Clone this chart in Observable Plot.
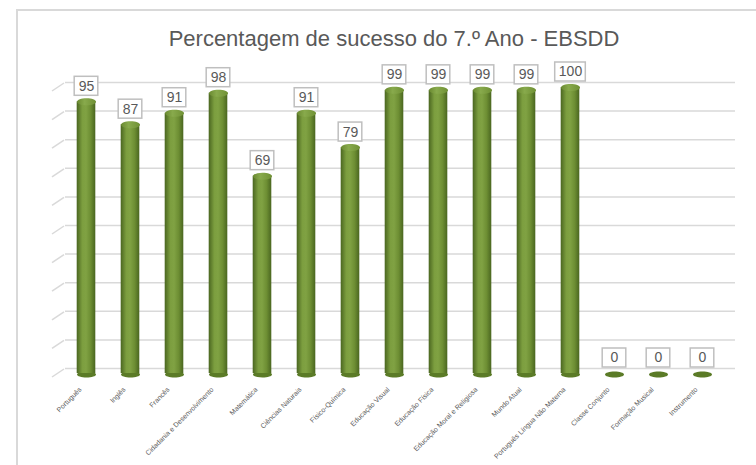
<!DOCTYPE html>
<html>
<head>
<meta charset="utf-8">
<script src="https://cdn.jsdelivr.net/npm/d3@7"></script>
<script src="https://cdn.jsdelivr.net/npm/@observablehq/plot@0.6"></script>
<style>
  html, body { margin: 0; padding: 0; background: #fff; overflow: hidden; }
  #wrap { position: relative; width: 756px; height: 465px; }
  #frame { position: absolute; left: 16px; top: 9px; width: 800px; height: 500px;
           border: 2px solid #d9d9d9; pointer-events: none; }
</style>
</head>
<body>
<div id="wrap"><div id="chart"></div><div id="frame"></div></div>
<script>
const categories = ["Português","Inglês","Francês","Cidadania e Desenvolvimento","Matemática","Ciências Naturais","Físico-Química","Educação Visual","Educação Física","Educação Moral e Religiosa","Mundo Atual","Português Língua Não Materna","Classe Conjunto","Formação Musical","Instrumento"];
const values = [95, 87, 91, 98, 69, 91, 79, 99, 99, 99, 99, 100, 0, 0, 0];
const gridTicks = [0, 10, 20, 30, 40, 50, 60, 70, 80, 90, 100];
const title = "Percentagem de sucesso do 7.º Ano - EBSDD";

const data = categories.map((c, i) => ({cat: c, v: values[i]}));
const font = "Liberation Sans, Arial, sans-serif";
const textColor = "#595959";

function ellipseSymbol(rx, ry) {
  const k = 0.5523;
  return {
    draw(ctx) {
      ctx.moveTo(rx, 0);
      ctx.bezierCurveTo(rx, k * ry, k * rx, ry, 0, ry);
      ctx.bezierCurveTo(-k * rx, ry, -rx, k * ry, -rx, 0);
      ctx.bezierCurveTo(-rx, -k * ry, -k * rx, -ry, 0, -ry);
      ctx.bezierCurveTo(k * rx, -ry, rx, -k * ry, rx, 0);
      ctx.closePath();
    }
  };
}

const defs = () => {
  const d = d3.create("svg:defs");
  const g1 = d.append("linearGradient").attr("id", "cyl").attr("x1", 0).attr("x2", 1).attr("y1", 0).attr("y2", 0);
  [["0%", "#4a6620"], ["30%", "#7c9e3f"], ["50%", "#80a243"], ["75%", "#6d8e33"], ["100%", "#4a6620"]]
    .forEach(([o, c]) => g1.append("stop").attr("offset", o).attr("stop-color", c));
  const g2 = d.append("linearGradient").attr("id", "cap").attr("x1", 0).attr("x2", 1).attr("y1", 0).attr("y2", 0);
  [["0%", "#6a8a30"], ["40%", "#88aa4c"], ["100%", "#6f9034"]]
    .forEach(([o, c]) => g2.append("stop").attr("offset", o).attr("stop-color", c));
  return d.node();
};

const twoDigit = data.filter(d => String(d.v).length <= 2);
const threeDigit = data.filter(d => String(d.v).length > 2);
const nonZero = data.filter(d => d.v > 0);

const chart = Plot.plot({
  width: 756,
  height: 465,
  marginTop: 87,
  marginBottom: 92,
  marginLeft: 61,
  marginRight: 30,
  style: {background: "transparent", fontFamily: font},
  x: {domain: categories, padding: 0},
  y: {domain: [0, 100]},
  marks: [
    defs,
    Plot.ruleY(gridTicks, {stroke: "#d9d9d9", strokeWidth: 1.5, dy: -5, insetLeft: 4, insetRight: -9}),
    Plot.dot(data, {x: "cat", y: 0, symbol: ellipseSymbol(9.5, 3), fill: "#5b7b27", stroke: "none", dy: 1}),
    Plot.barY(nonZero, {x: "cat", y: "v", fill: "url(#cyl)", insetLeft: 12.7, insetRight: 12.7}),
    Plot.dot(nonZero, {x: "cat", y: "v", symbol: ellipseSymbol(9.5, 3.5), fill: "url(#cap)", stroke: "none"}),
    Plot.barY(twoDigit, {x: "cat", y1: "v", y2: "v", insetTop: -25, insetBottom: 6, insetLeft: 10.2, insetRight: 10.2,
      fill: "white", stroke: "#bfbfbf", strokeWidth: 1.5}),
    Plot.barY(threeDigit, {x: "cat", y1: "v", y2: "v", insetTop: -25, insetBottom: 6, insetLeft: 6.7, insetRight: 6.7,
      fill: "white", stroke: "#bfbfbf", strokeWidth: 1.5}),
    Plot.text(data, {x: "cat", y: "v", text: d => String(d.v), dy: -15.5, fontSize: 14, fill: textColor, fontFamily: font}),
    Plot.text([title], {frameAnchor: "top", dy: -57, text: d => d, fontSize: 22, fill: textColor, fontFamily: font}),
    Plot.axisX({tickRotate: -45, tickSize: 0, tickPadding: 15, fontSize: 7, fill: textColor, dx: -6, label: null}),
    Plot.axisY({ticks: [], label: null, tickSize: 0})
  ]
});

document.getElementById("chart").appendChild(chart);

// side-wall perspective strokes for the gridlines
const ys = chart.scale("y");
const svg = d3.select(chart);
svg.insert("g", ":first-child")
  .attr("stroke", "#d9d9d9").attr("stroke-width", 1.5)
  .selectAll("line").data(gridTicks).join("line")
  .attr("x1", 52).attr("x2", 64)
  .attr("y1", t => ys.apply(t) - 5 + 9)
  .attr("y2", t => ys.apply(t) - 5 + 1);
</script>
</body>
</html>
